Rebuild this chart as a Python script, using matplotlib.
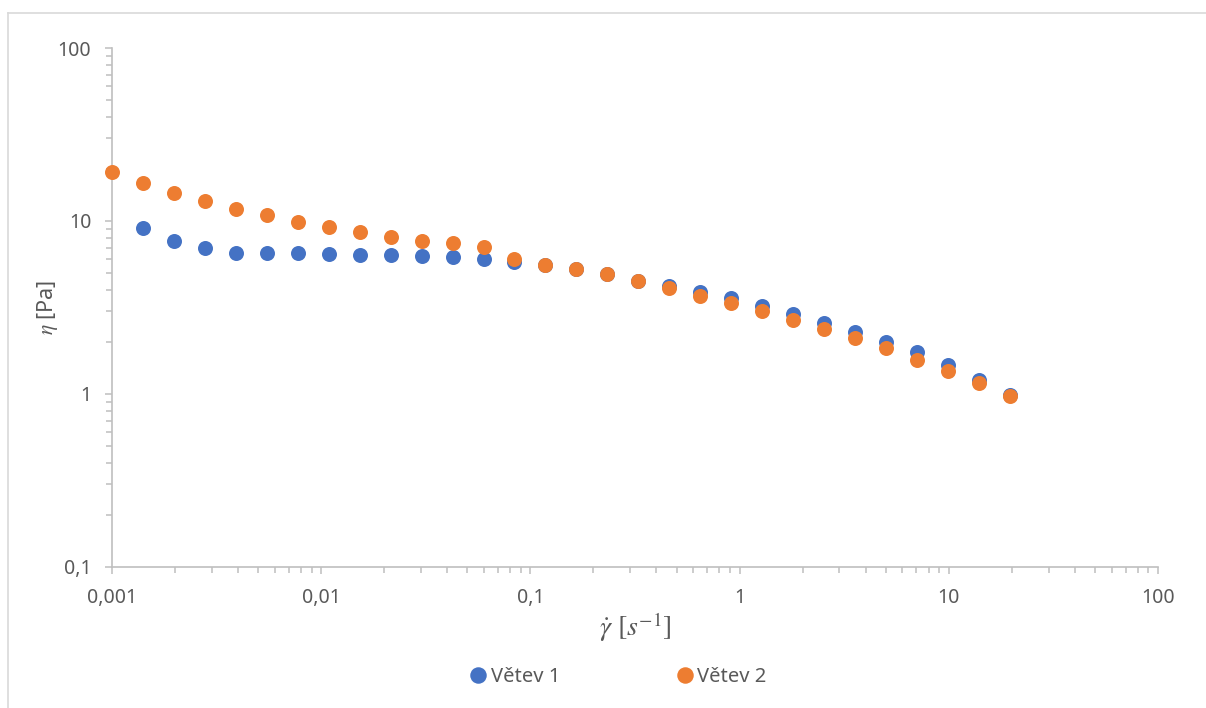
"""Flow curve: viscosity vs. shear rate for two measurement branches (log-log)."""

import matplotlib
matplotlib.use("Agg")
import matplotlib.pyplot as plt
from matplotlib.lines import Line2D
from matplotlib.ticker import FixedLocator, FixedFormatter, LogLocator, NullFormatter

# shear rate [1/s]
shear_rate = [0.001, 0.001406, 0.001977, 0.00278, 0.00391, 0.0055, 0.00773,
              0.01086, 0.01528, 0.02148, 0.0302, 0.04246, 0.0597, 0.0839,
              0.118, 0.166, 0.233, 0.328, 0.461, 0.649, 0.912, 1.282, 1.803,
              2.535, 3.565, 5.01, 7.05, 9.91, 13.93, 19.6]

# viscosity [Pa] - branch 1 has no point at the first shear rate
visc_branch1 = [9.15, 7.7, 6.95, 6.5, 6.5, 6.55, 6.45, 6.4, 6.38, 6.3, 6.2,
                6.05, 5.8, 5.6, 5.3, 4.95, 4.5, 4.2, 3.88, 3.6, 3.22, 2.9,
                2.58, 2.27, 2.0, 1.74, 1.47, 1.2, 0.98]
visc_branch2 = [19.2, 16.6, 14.5, 13.1, 11.8, 10.8, 9.9, 9.2, 8.6, 8.1, 7.7,
                7.45, 7.05, 6.0, 5.6, 5.3, 4.95, 4.5, 4.1, 3.7, 3.36, 3.0,
                2.68, 2.38, 2.1, 1.84, 1.58, 1.35, 1.15, 0.97]

x_ticks = [0.001, 0.01, 0.1, 1, 10, 100]
x_tick_labels = ["0,001", "0,01", "0,1", "1", "10", "100"]
y_ticks = [0.1, 1, 10, 100]
y_tick_labels = ["0,1", "1", "10", "100"]

BLUE = "#4472C4"
ORANGE = "#ED7D31"
AXIS_GRAY = "#BFBFBF"
TEXT_GRAY = "#595959"

plt.rcParams["font.family"] = ["Noto Sans", "DejaVu Sans"]
plt.rcParams["mathtext.fontset"] = "stix"

fig = plt.figure(figsize=(12.06, 7.08), dpi=100)
ax = fig.add_axes([0.0929, 0.1992, 0.8673, 0.7330])

ax.plot(shear_rate[1:], visc_branch1, "o", color=BLUE, markersize=10.8,
        markeredgewidth=0, label="Větev 1", clip_on=False, zorder=3)
ax.plot(shear_rate, visc_branch2, "o", color=ORANGE, markersize=10.8,
        markeredgewidth=0, label="Větev 2", clip_on=False, zorder=4)

ax.set_xscale("log")
ax.set_yscale("log")
ax.set_xlim(0.001, 100)
ax.set_ylim(0.1, 100)

ax.xaxis.set_major_locator(FixedLocator(x_ticks))
ax.xaxis.set_major_formatter(FixedFormatter(x_tick_labels))
ax.yaxis.set_major_locator(FixedLocator(y_ticks))
ax.yaxis.set_major_formatter(FixedFormatter(y_tick_labels))
for axis in (ax.xaxis, ax.yaxis):
    axis.set_minor_locator(LogLocator(base=10, subs=range(2, 10), numticks=20))
    axis.set_minor_formatter(NullFormatter())

for side in ("top", "right"):
    ax.spines[side].set_visible(False)
for side in ("left", "bottom"):
    ax.spines[side].set_color(AXIS_GRAY)
    ax.spines[side].set_linewidth(1.2)

ax.tick_params(which="major", direction="out", length=5, width=1.1,
               color=AXIS_GRAY, labelcolor=TEXT_GRAY, labelsize=14)
ax.tick_params(which="minor", direction="out", length=4, width=1.1,
               color=AXIS_GRAY)
ax.tick_params(axis="y", which="major", pad=10)
ax.tick_params(axis="x", which="major", pad=10)

ax.set_xlabel(r"$\dot{\gamma}\ [s^{-1}]$", fontsize=20, color=TEXT_GRAY,
              labelpad=2)
ax.set_ylabel(r"$\eta$ [Pa]", fontsize=15.5, color=TEXT_GRAY, labelpad=-2)

leg = fig.legend(loc="center", bbox_to_anchor=(0.511, 0.044), ncol=2,
                 frameon=False, fontsize=14.5, handletextpad=0.0,
                 columnspacing=5.6, markerscale=1.1, handlelength=1.2)
for text in leg.get_texts():
    text.set_color(TEXT_GRAY)

# thin outer frame along the top and left edges
fig.add_artist(Line2D([8 / 1206, 8 / 1206], [0, 1 - 13 / 708],
                      transform=fig.transFigure, color="#D9D9D9", lw=1.2))
fig.add_artist(Line2D([8 / 1206, 1], [1 - 13 / 708, 1 - 13 / 708],
                      transform=fig.transFigure, color="#D9D9D9", lw=1.2))

fig.savefig("out.png", dpi=100, facecolor="white")
